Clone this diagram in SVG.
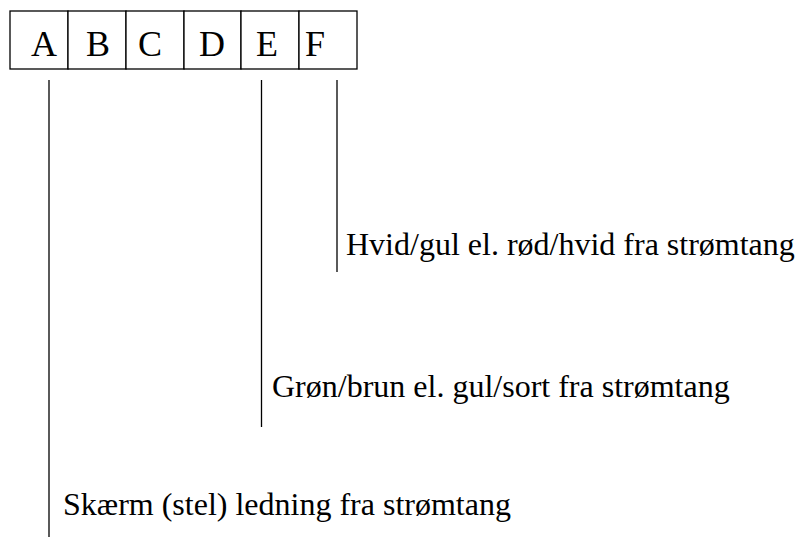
<svg xmlns="http://www.w3.org/2000/svg" width="798" height="537" viewBox="0 0 798 537">
<style>
.cell{fill:#fff;stroke:#000;stroke-width:1.3}
.lt{font-family:"Liberation Serif","Times New Roman",serif;font-size:36px;fill:#000}
.lbl{font-family:"Liberation Serif","Times New Roman",serif;font-size:32px;fill:#000}
.ln{stroke:#000;stroke-width:1.3;fill:none}
</style>
<rect width="798" height="537" fill="#fff"/>
<g id="nodeA"><rect class="cell" x="10" y="11" width="58" height="58"/><text class="lt" x="31" y="56">A</text></g>
<g id="nodeB"><rect class="cell" x="68" y="11" width="58" height="58"/><text class="lt" x="86" y="56">B</text></g>
<g id="nodeC"><rect class="cell" x="126" y="11" width="58" height="58"/><text class="lt" x="138" y="56">C</text></g>
<g id="nodeD"><rect class="cell" x="184" y="11" width="57" height="58"/><text class="lt" x="199" y="56">D</text></g>
<g id="nodeE"><rect class="cell" x="241" y="11" width="58" height="58"/><text class="lt" x="256" y="56">E</text></g>
<g id="nodeF"><rect class="cell" x="299" y="11" width="58" height="58"/><text class="lt" x="305" y="56">F</text></g>
<g id="connectors">
<line class="ln" x1="49" y1="80" x2="49" y2="540"/>
<line class="ln" x1="261.5" y1="80" x2="261.5" y2="427"/>
<line class="ln" x1="337" y1="80" x2="337" y2="272"/>
</g>
<g id="labels">
<text class="lbl" x="346" y="255">Hvid/gul el. rød/hvid fra strømtang</text>
<text class="lbl" x="272" y="397">Grøn/brun el. gul/sort fra strømtang</text>
<text class="lbl" x="63" y="515">Skærm (stel) ledning fra strømtang</text>
</g>
</svg>
